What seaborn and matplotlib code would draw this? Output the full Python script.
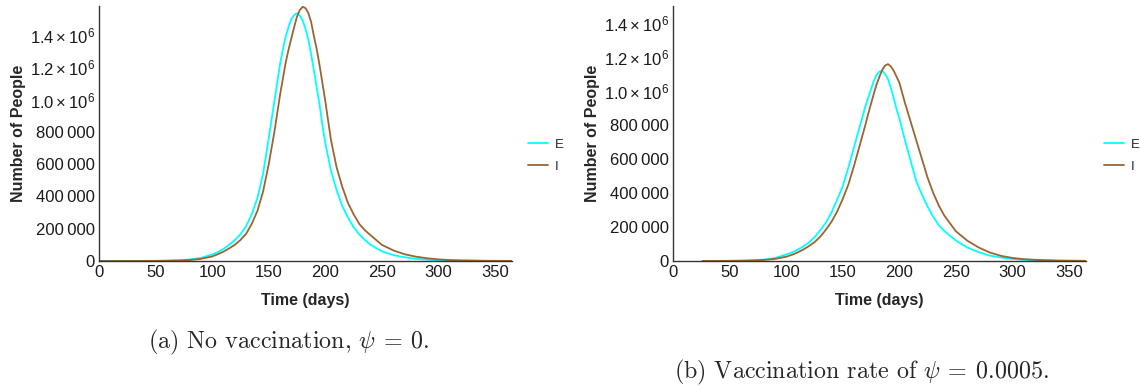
import numpy as np
import pandas as pd
import seaborn as sns
import matplotlib.pyplot as plt
import matplotlib.ticker as mtick

# Time grid (days), denser around the peaks
days_a = [0, 10, 20, 30, 40, 50, 60, 70, 80, 90, 100,
          105, 110, 115, 120, 125, 130, 135, 140, 145, 150, 155,
          160, 162.5, 165, 167.5, 170, 172.5, 175, 177.5, 180, 182.5, 185, 187.5, 190,
          192.5, 195, 197.5, 200,
          205, 210, 215, 220, 225, 230, 235, 240,
          250, 260, 270, 280, 290, 300, 310, 320, 340, 365]
days_b = [26] + days_a[3:]

# Panel (a): no vaccination, values in millions of people
exposed_a = [0.0, 0.0001, 0.0002, 0.0003, 0.0005, 0.001, 0.002, 0.004, 0.009, 0.019, 0.04,
             0.055, 0.075, 0.1, 0.13, 0.165, 0.215, 0.29, 0.39, 0.54, 0.76, 0.99,
             1.22, 1.31, 1.39, 1.45, 1.5, 1.525, 1.535, 1.52, 1.49, 1.44, 1.37, 1.28, 1.18,
             1.07, 0.965, 0.84, 0.73,
             0.56, 0.44, 0.34, 0.27, 0.21, 0.165, 0.13, 0.1,
             0.06, 0.037, 0.023, 0.014, 0.008, 0.005, 0.003, 0.002, 0.001, 0.0003]
infected_a = [0.0, 0.0, 0.0001, 0.0002, 0.0003, 0.0007, 0.0015, 0.003, 0.006, 0.013, 0.028,
              0.042, 0.058, 0.078, 0.1, 0.13, 0.168, 0.23, 0.31, 0.43, 0.6, 0.8,
              1.03, 1.13, 1.23, 1.31, 1.38, 1.45, 1.515, 1.555, 1.575, 1.567, 1.537, 1.48, 1.39,
              1.31, 1.21, 1.1, 0.99,
              0.75, 0.58, 0.46, 0.36, 0.29, 0.23, 0.19, 0.16,
              0.1, 0.066, 0.042, 0.027, 0.017, 0.01, 0.006, 0.004, 0.0015, 0.0005]

# Panel (b): vaccination rate psi = 0.0005
exposed_b = [0.0003, 0.0003, 0.0006, 0.001, 0.002, 0.004, 0.008, 0.017, 0.038,
             0.05, 0.066, 0.085, 0.108, 0.14, 0.18, 0.225, 0.285, 0.36, 0.44, 0.55,
             0.67, 0.73, 0.79, 0.85, 0.91, 0.96, 1.01, 1.06, 1.095, 1.115, 1.118, 1.1, 1.07,
             1.02, 0.96, 0.895, 0.84,
             0.71, 0.59, 0.47, 0.39, 0.32, 0.26, 0.21, 0.175,
             0.12, 0.08, 0.052, 0.032, 0.02, 0.012, 0.007, 0.004, 0.0015, 0.0005]
infected_b = [0.0002, 0.0002, 0.0004, 0.0008, 0.0015, 0.003, 0.006, 0.012, 0.025,
              0.036, 0.05, 0.067, 0.087, 0.11, 0.142, 0.183, 0.23, 0.29, 0.365, 0.45,
              0.56, 0.62, 0.68, 0.74, 0.8, 0.865, 0.925, 0.985, 1.04, 1.085, 1.125, 1.15, 1.158,
              1.145, 1.12, 1.085, 1.05,
              0.93, 0.82, 0.71, 0.6, 0.49, 0.4, 0.325, 0.265,
              0.175, 0.12, 0.08, 0.05, 0.03, 0.018, 0.011, 0.007, 0.0025, 0.0008]

ytick_values = [0, 200000, 400000, 600000, 800000, 1000000, 1200000, 1400000]
ytick_labels = ["0", "200\u2009000", "400\u2009000", "600\u2009000", "800\u2009000",
                r"$1.0\times10^{6}$", r"$1.2\times10^{6}$", r"$1.4\times10^{6}$"]
captions = [r"(a) No vaccination, $\psi \:=\: 0$.",
            r"(b) Vaccination rate of $\psi \:=\: 0.0005$."]

palette = {"E": "#00FFFF", "I": "#996633"}

sns.set_style("white")
plt.rcParams["font.family"] = ["Liberation Sans", "DejaVu Sans"]
plt.rcParams["mathtext.fontset"] = "custom"
plt.rcParams["mathtext.rm"] = "Liberation Sans"
plt.rcParams["mathtext.it"] = "Liberation Sans:italic"
plt.rcParams["mathtext.bf"] = "Liberation Sans:bold"


def make_frame(days, exposed, infected):
    return pd.concat([
        pd.DataFrame({"day": days, "people": np.array(exposed) * 1e6, "series": "E"}),
        pd.DataFrame({"day": days, "people": np.array(infected) * 1e6, "series": "I"}),
    ])


fig = plt.figure(figsize=(11.4, 3.89), dpi=100)
W, H = 1140, 389
panels = [
    (99, 1.58e6, make_frame(days_a, exposed_a, infected_a), 528),
    (673, 1.5e6, make_frame(days_b, exposed_b, infected_b), 1104),
]
axis_col = "#333333"

for x0, ytop, df, leg_x in panels:
    ax = fig.add_axes([x0 / W, 1 - 261 / H, 413 / W, 255 / H])
    sns.lineplot(data=df, x="day", y="people", hue="series", palette=palette,
                 linewidth=1.3, ax=ax)
    ax.set_xlim(0, 365)
    ax.set_ylim(0, ytop)
    for s in ["top", "right"]:
        ax.spines[s].set_visible(False)
    for s in ["left", "bottom"]:
        ax.spines[s].set_color(axis_col)
        ax.spines[s].set_linewidth(1.0)

    ax.xaxis.set_major_locator(mtick.MultipleLocator(50))
    ax.xaxis.set_minor_locator(mtick.MultipleLocator(10))
    ax.yaxis.set_major_locator(mtick.FixedLocator(ytick_values))
    ax.yaxis.set_major_formatter(mtick.FixedFormatter(ytick_labels))
    ax.yaxis.set_minor_locator(mtick.MultipleLocator(50000))
    ax.tick_params(which="both", direction="in", color=axis_col, labelsize=12,
                   labelcolor="#1a1a1a", width=0.8)
    ax.tick_params(which="major", length=4, pad=3)
    ax.tick_params(which="minor", length=2.2)

    ax.set_xlabel("Time (days)", fontsize=11.5, fontweight="bold")
    ax.set_ylabel("Number of People", fontsize=11.5, fontweight="bold")
    ax.xaxis.set_label_coords(0.5, -0.125)
    ax.yaxis.set_label_coords(-0.177, 0.5)

    handles, labels = ax.get_legend_handles_labels()
    ax.legend(handles, labels, loc="center left",
              bbox_to_anchor=(leg_x / W, 1 - 155.5 / H), bbox_transform=fig.transFigure,
              frameon=False, fontsize=9.5, handlelength=1.5, handletextpad=0.5,
              labelspacing=0.75, borderpad=0, borderaxespad=0)

fig.text(148 / W, 1 - 342 / H, captions[0], fontsize=17.3, ha="left", va="center",
         family="cmr10", math_fontfamily="cm")
fig.text(674 / W, 1 - 372 / H, captions[1], fontsize=17.3, ha="left", va="center",
         family="cmr10", math_fontfamily="cm")

fig.savefig("out.png", dpi=100)
